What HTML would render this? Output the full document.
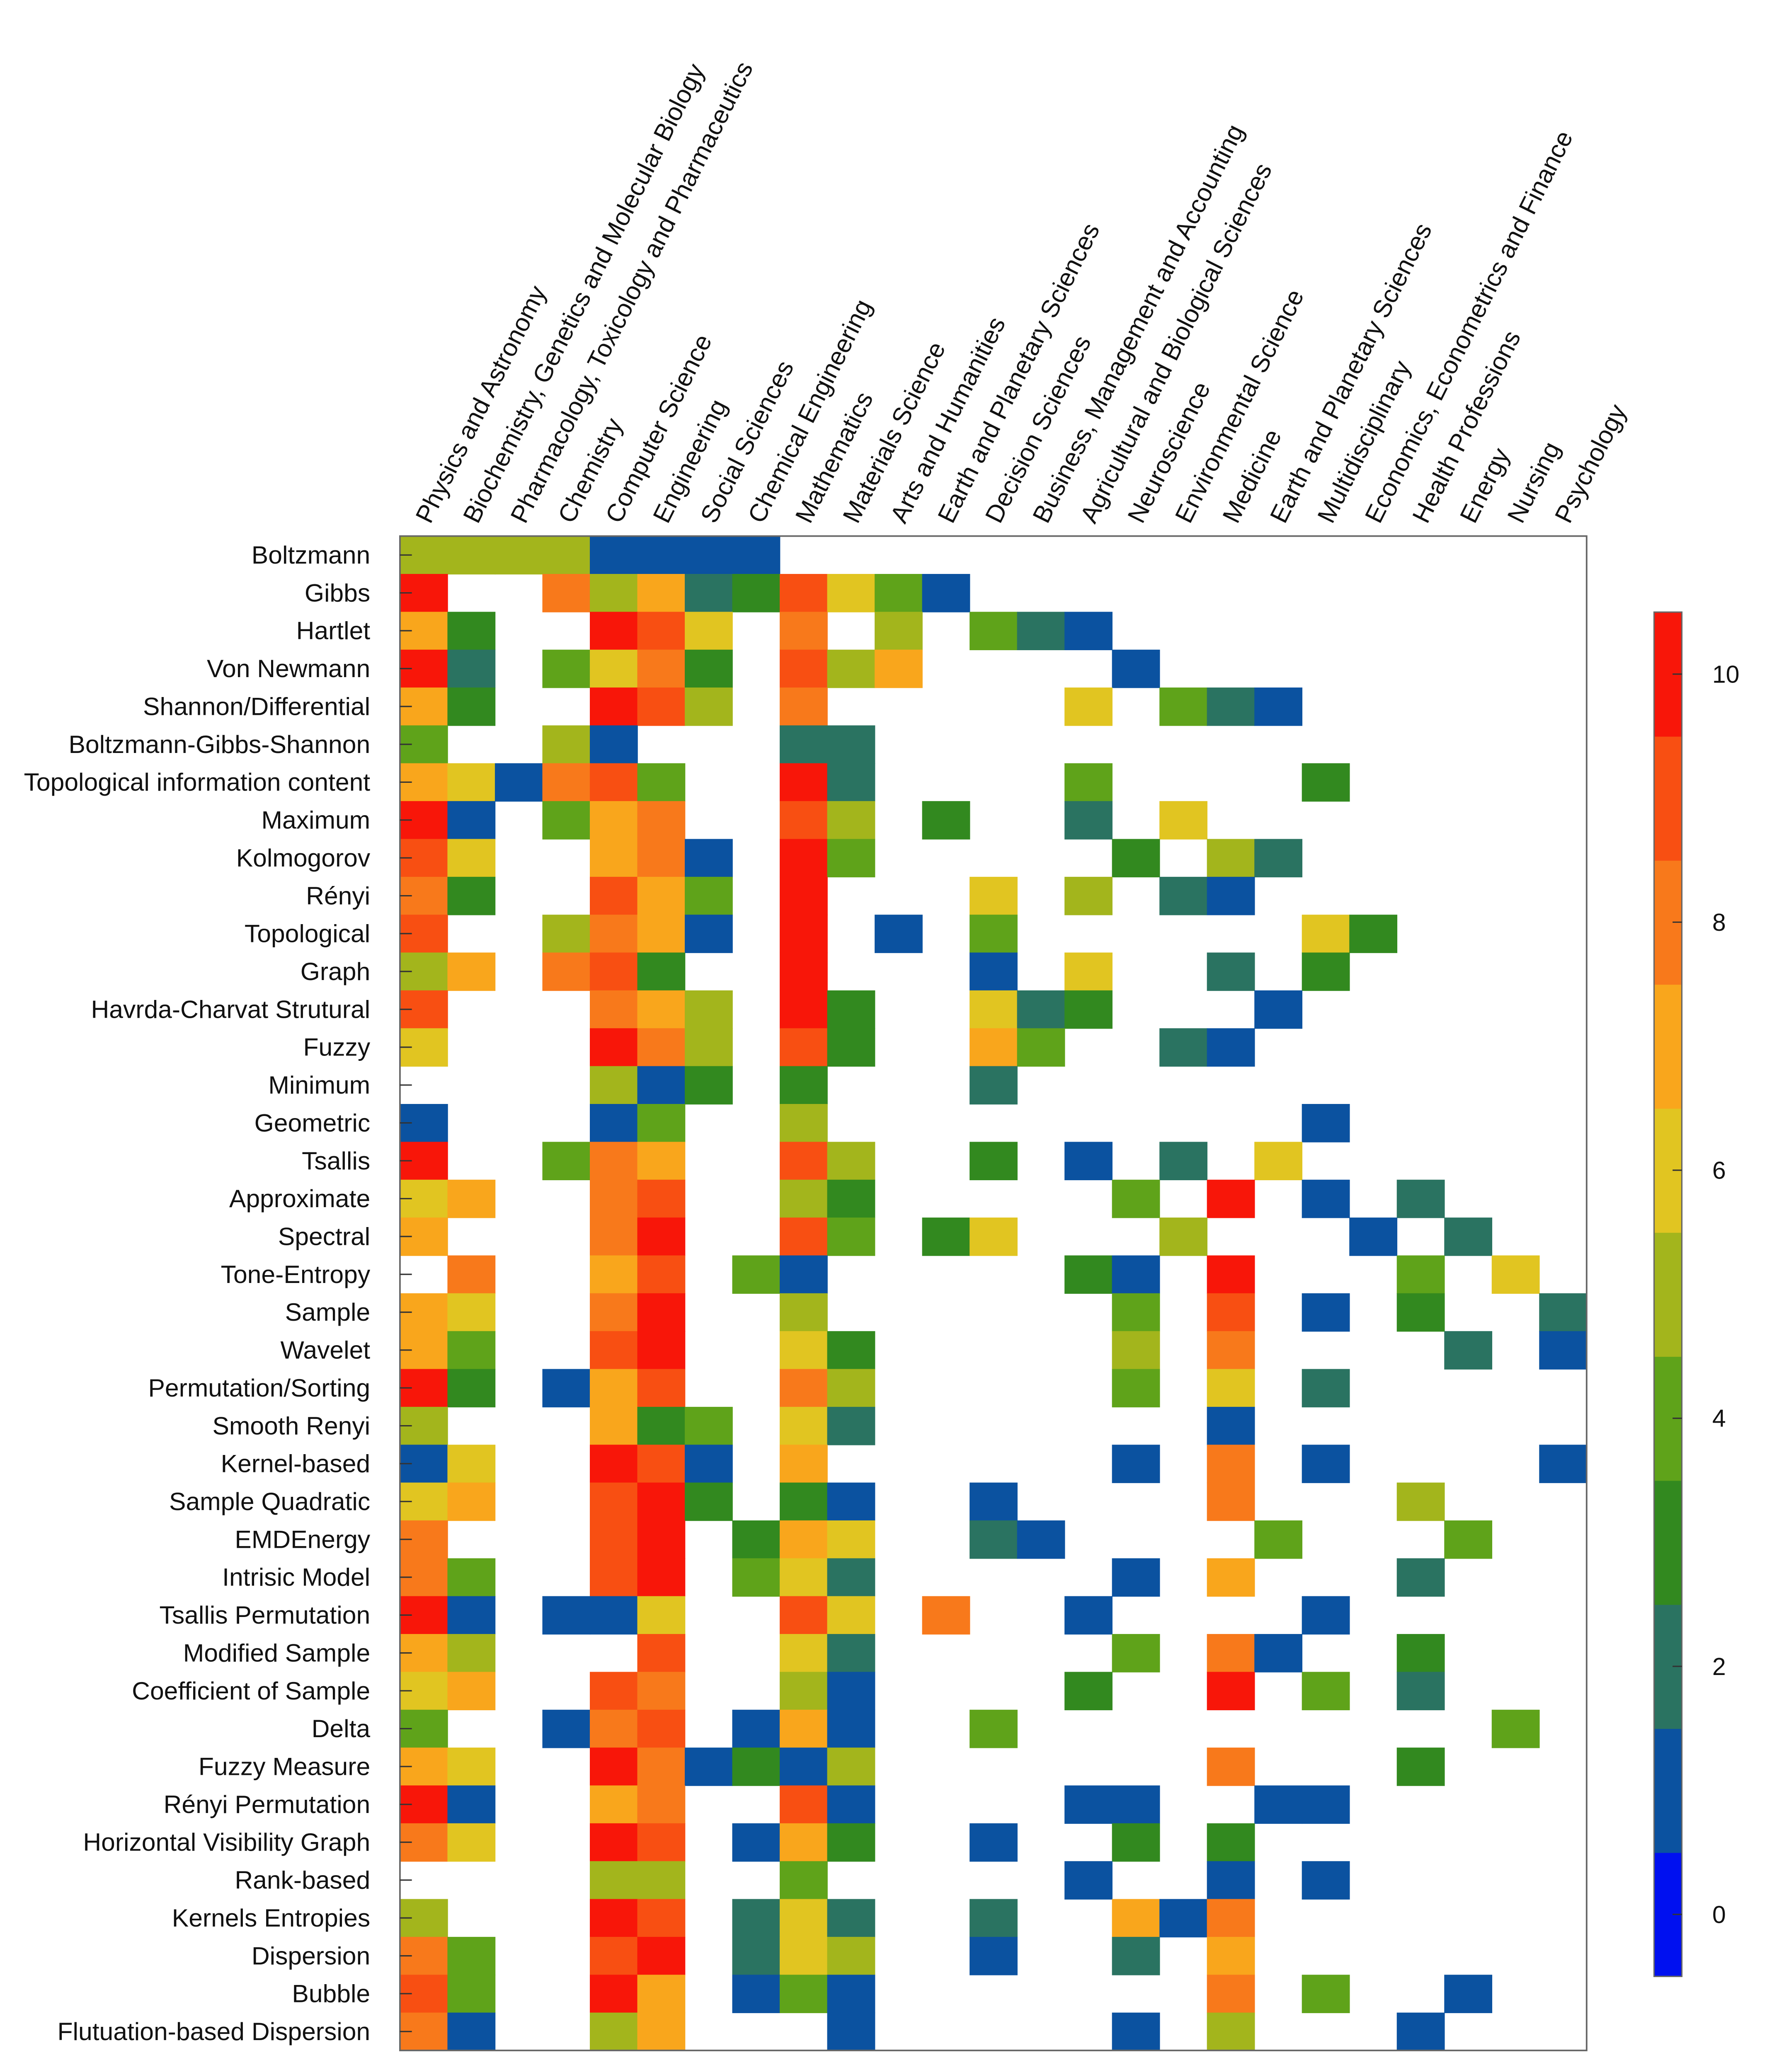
<!DOCTYPE html>
<html><head><meta charset="utf-8"><style>
html,body{margin:0;padding:0;background:#fff;overflow:hidden;width:100vw;height:100vh;}
svg{display:block;position:absolute;left:0;top:0;width:98.74vw;height:100vh;font-family:"Liberation Sans",sans-serif;}
</style></head><body>
<svg id="chart" viewBox="0 0 1336 1567.3" preserveAspectRatio="none" xmlns="http://www.w3.org/2000/svg">
<g id="cells"></g>
<g id="frame"></g>
<g id="rowlabels"></g>
<g id="collabels"></g>
<g id="cbar"></g>
</svg>
<script>
const rowLabels = ["Boltzmann","Gibbs","Hartlet","Von Newmann","Shannon/Differential","Boltzmann-Gibbs-Shannon","Topological information content","Maximum","Kolmogorov","Rényi","Topological","Graph","Havrda-Charvat Strutural","Fuzzy","Minimum","Geometric","Tsallis","Approximate","Spectral","Tone-Entropy","Sample","Wavelet","Permutation/Sorting","Smooth Renyi","Kernel-based","Sample Quadratic","EMDEnergy","Intrisic Model","Tsallis Permutation","Modified Sample","Coefficient of Sample","Delta","Fuzzy Measure","Rényi Permutation","Horizontal Visibility Graph","Rank-based","Kernels Entropies","Dispersion","Bubble","Flutuation-based Dispersion"];
const colLabels = ["Physics and Astronomy","Biochemistry, Genetics and Molecular Biology","Pharmacology, Toxicology and Pharmaceutics","Chemistry","Computer Science","Engineering","Social Sciences","Chemical Engineering","Mathematics","Materials Science","Arts and Humanities","Earth and Planetary Sciences","Decision Sciences","Business, Management and Accounting","Agricultural and Biological Sciences","Neuroscience","Environmental Science","Medicine","Earth and Planetary Sciences","Multidisciplinary","Economics, Econometrics and Finance","Health Professions","Energy","Nursing","Psychology"];
// each row: list of [columnIndex, value]
const cellValues = [
[[0,5],[1,5],[2,5],[3,5],[4,1],[5,1],[6,1],[7,1]],
[[0,10],[3,8],[4,5],[5,7],[6,2],[7,3],[8,9],[9,6],[10,4],[11,1]],
[[0,7],[1,3],[4,10],[5,9],[6,6],[8,8],[10,5],[12,4],[13,2],[14,1]],
[[0,10],[1,2],[3,4],[4,6],[5,8],[6,3],[8,9],[9,5],[10,7],[15,1]],
[[0,7],[1,3],[4,10],[5,9],[6,5],[8,8],[14,6],[16,4],[17,2],[18,1]],
[[0,4],[3,5],[4,1],[8,2],[9,2]],
[[0,7],[1,6],[2,1],[3,8],[4,9],[5,4],[8,10],[9,2],[14,4],[19,3]],
[[0,10],[1,1],[3,4],[4,7],[5,8],[8,9],[9,5],[11,3],[14,2],[16,6]],
[[0,9],[1,6],[4,7],[5,8],[6,1],[8,10],[9,4],[15,3],[17,5],[18,2]],
[[0,8],[1,3],[4,9],[5,7],[6,4],[8,10],[12,6],[14,5],[16,2],[17,1]],
[[0,9],[3,5],[4,8],[5,7],[6,1],[8,10],[10,1],[12,4],[19,6],[20,3]],
[[0,5],[1,7],[3,8],[4,9],[5,3],[8,10],[12,1],[14,6],[17,2],[19,3]],
[[0,9],[4,8],[5,7],[6,5],[8,10],[9,3],[12,6],[13,2],[14,3],[18,1]],
[[0,6],[4,10],[5,8],[6,5],[8,9],[9,3],[12,7],[13,4],[16,2],[17,1]],
[[4,5],[5,1],[6,3],[8,3],[12,2]],
[[0,1],[4,1],[5,4],[8,5],[19,1]],
[[0,10],[3,4],[4,8],[5,7],[8,9],[9,5],[12,3],[14,1],[16,2],[18,6]],
[[0,6],[1,7],[4,8],[5,9],[8,5],[9,3],[15,4],[17,10],[19,1],[21,2]],
[[0,7],[4,8],[5,10],[8,9],[9,4],[11,3],[12,6],[16,5],[20,1],[22,2]],
[[1,8],[4,7],[5,9],[7,4],[8,1],[14,3],[15,1],[17,10],[21,4],[23,6]],
[[0,7],[1,6],[4,8],[5,10],[8,5],[15,4],[17,9],[19,1],[21,3],[24,2]],
[[0,7],[1,4],[4,9],[5,10],[8,6],[9,3],[15,5],[17,8],[22,2],[24,1]],
[[0,10],[1,3],[3,1],[4,7],[5,9],[8,8],[9,5],[15,4],[17,6],[19,2]],
[[0,5],[4,7],[5,3],[6,4],[8,6],[9,2],[17,1]],
[[0,1],[1,6],[4,10],[5,9],[6,1],[8,7],[15,1],[17,8],[19,1],[24,1]],
[[0,6],[1,7],[4,9],[5,10],[6,3],[8,3],[9,1],[12,1],[17,8],[21,5]],
[[0,8],[4,9],[5,10],[7,3],[8,7],[9,6],[12,2],[13,1],[18,4],[22,4]],
[[0,8],[1,4],[4,9],[5,10],[7,4],[8,6],[9,2],[15,1],[17,7],[21,2]],
[[0,10],[1,1],[3,1],[4,1],[5,6],[8,9],[9,6],[11,8],[14,1],[19,1]],
[[0,7],[1,5],[5,9],[8,6],[9,2],[15,4],[17,8],[18,1],[21,3]],
[[0,6],[1,7],[4,9],[5,8],[8,5],[9,1],[14,3],[17,10],[19,4],[21,2]],
[[0,4],[3,1],[4,8],[5,9],[7,1],[8,7],[9,1],[12,4],[23,4]],
[[0,7],[1,6],[4,10],[5,8],[6,1],[7,3],[8,1],[9,5],[17,8],[21,3]],
[[0,10],[1,1],[4,7],[5,8],[8,9],[9,1],[14,1],[15,1],[18,1],[19,1]],
[[0,8],[1,6],[4,10],[5,9],[7,1],[8,7],[9,3],[12,1],[15,3],[17,3]],
[[4,5],[5,5],[8,4],[14,1],[17,1],[19,1]],
[[0,5],[4,10],[5,9],[7,2],[8,6],[9,2],[12,2],[15,7],[16,1],[17,8]],
[[0,8],[1,4],[4,9],[5,10],[7,2],[8,6],[9,5],[12,1],[15,2],[17,7]],
[[0,9],[1,4],[4,10],[5,7],[7,1],[8,4],[9,1],[17,8],[19,4],[22,1]],
[[0,8],[1,1],[4,5],[5,7],[9,1],[15,1],[17,5],[21,1]]
];
const cbarTicks = [0,2,4,6,8,10];
const palette = ["#0010f0","#0b52a0","#2a7361","#32891f","#5fa31a","#a3b51c","#e1c521","#f9a61c","#f8791b","#f84f12","#f81609"];

const NS="http://www.w3.org/2000/svg";
const X0=302.5,X1=1200,Y0=405.5,Y1=1551;
const cw=(X1-X0)/colLabels.length, rh=(Y1-Y0)/rowLabels.length;
const xPos=c=>X0+c*cw, yPos=r=>Y0+r*rh;
const CB={x:1251,w:21,vmin:-0.5,vmax:10.5,yTop:463,yBot:1495};
const cbY=v=>CB.yBot-(v-CB.vmin)/(CB.vmax-CB.vmin)*(CB.yBot-CB.yTop);
function mk(tag,attrs,parent){const e=document.createElementNS(NS,tag);for(const k in attrs)e.setAttribute(k,attrs[k]);parent.appendChild(e);return e;}

const gCells=document.getElementById('cells');
cellValues.forEach((row,r)=>{row.forEach(([c,v])=>{
  const e=mk('rect',{x:xPos(c),y:yPos(r),width:cw+0.4,height:rh+0.4,fill:palette[Math.round(v)]},gCells);
  
  
});});

const gF=document.getElementById('frame');
const fr=mk('rect',{x:X0,y:Y0,width:X1-X0,height:Y1-Y0,fill:'none',stroke:'#666','stroke-width':1.2},gF);


rowLabels.forEach((l,r)=>{const y=yPos(r)+rh/2;
  const t=mk('line',{x1:X0,x2:X0+9,y1:y,y2:y,stroke:'#333','stroke-width':1},gF);
  
  
});

const gR=document.getElementById('rowlabels');
rowLabels.forEach((l,r)=>{
  const t=mk('text',{x:280,y:yPos(r)+rh/2+6.5,'text-anchor':'end','font-size':19,fill:'#111'},gR);
  t.textContent=l;
  
  
});
const gC=document.getElementById('collabels');
colLabels.forEach((l,c)=>{
  const x=xPos(c)+cw/2+5,y=397;
  const t=mk('text',{x:x,y:y,'font-size':19,fill:'#111',transform:`rotate(-63.5 ${x} ${y})`},gC);
  t.textContent=l;
  
  
});

const gB=document.getElementById('cbar');
palette.forEach((col,v)=>{
  const e=mk('rect',{x:CB.x,y:cbY(v+0.5),width:CB.w,height:cbY(v-0.5)-cbY(v+0.5)+0.4,fill:col},gB);
  
  
});
const cbf=mk('rect',{x:CB.x,y:CB.yTop,width:CB.w,height:CB.yBot-CB.yTop,fill:'none',stroke:'#666','stroke-width':1},gB);


cbarTicks.forEach(v=>{
  const y=cbY(v);
  const tk=mk('line',{x1:CB.x+CB.w-7,x2:CB.x+CB.w,y1:y,y2:y,stroke:'#333','stroke-width':1},gB);
  
  
  const t=mk('text',{x:1295,y:y+6.5,'font-size':18.5,fill:'#111'},gB);
  t.textContent=String(v);
  
  
});
</script>
</body></html>
